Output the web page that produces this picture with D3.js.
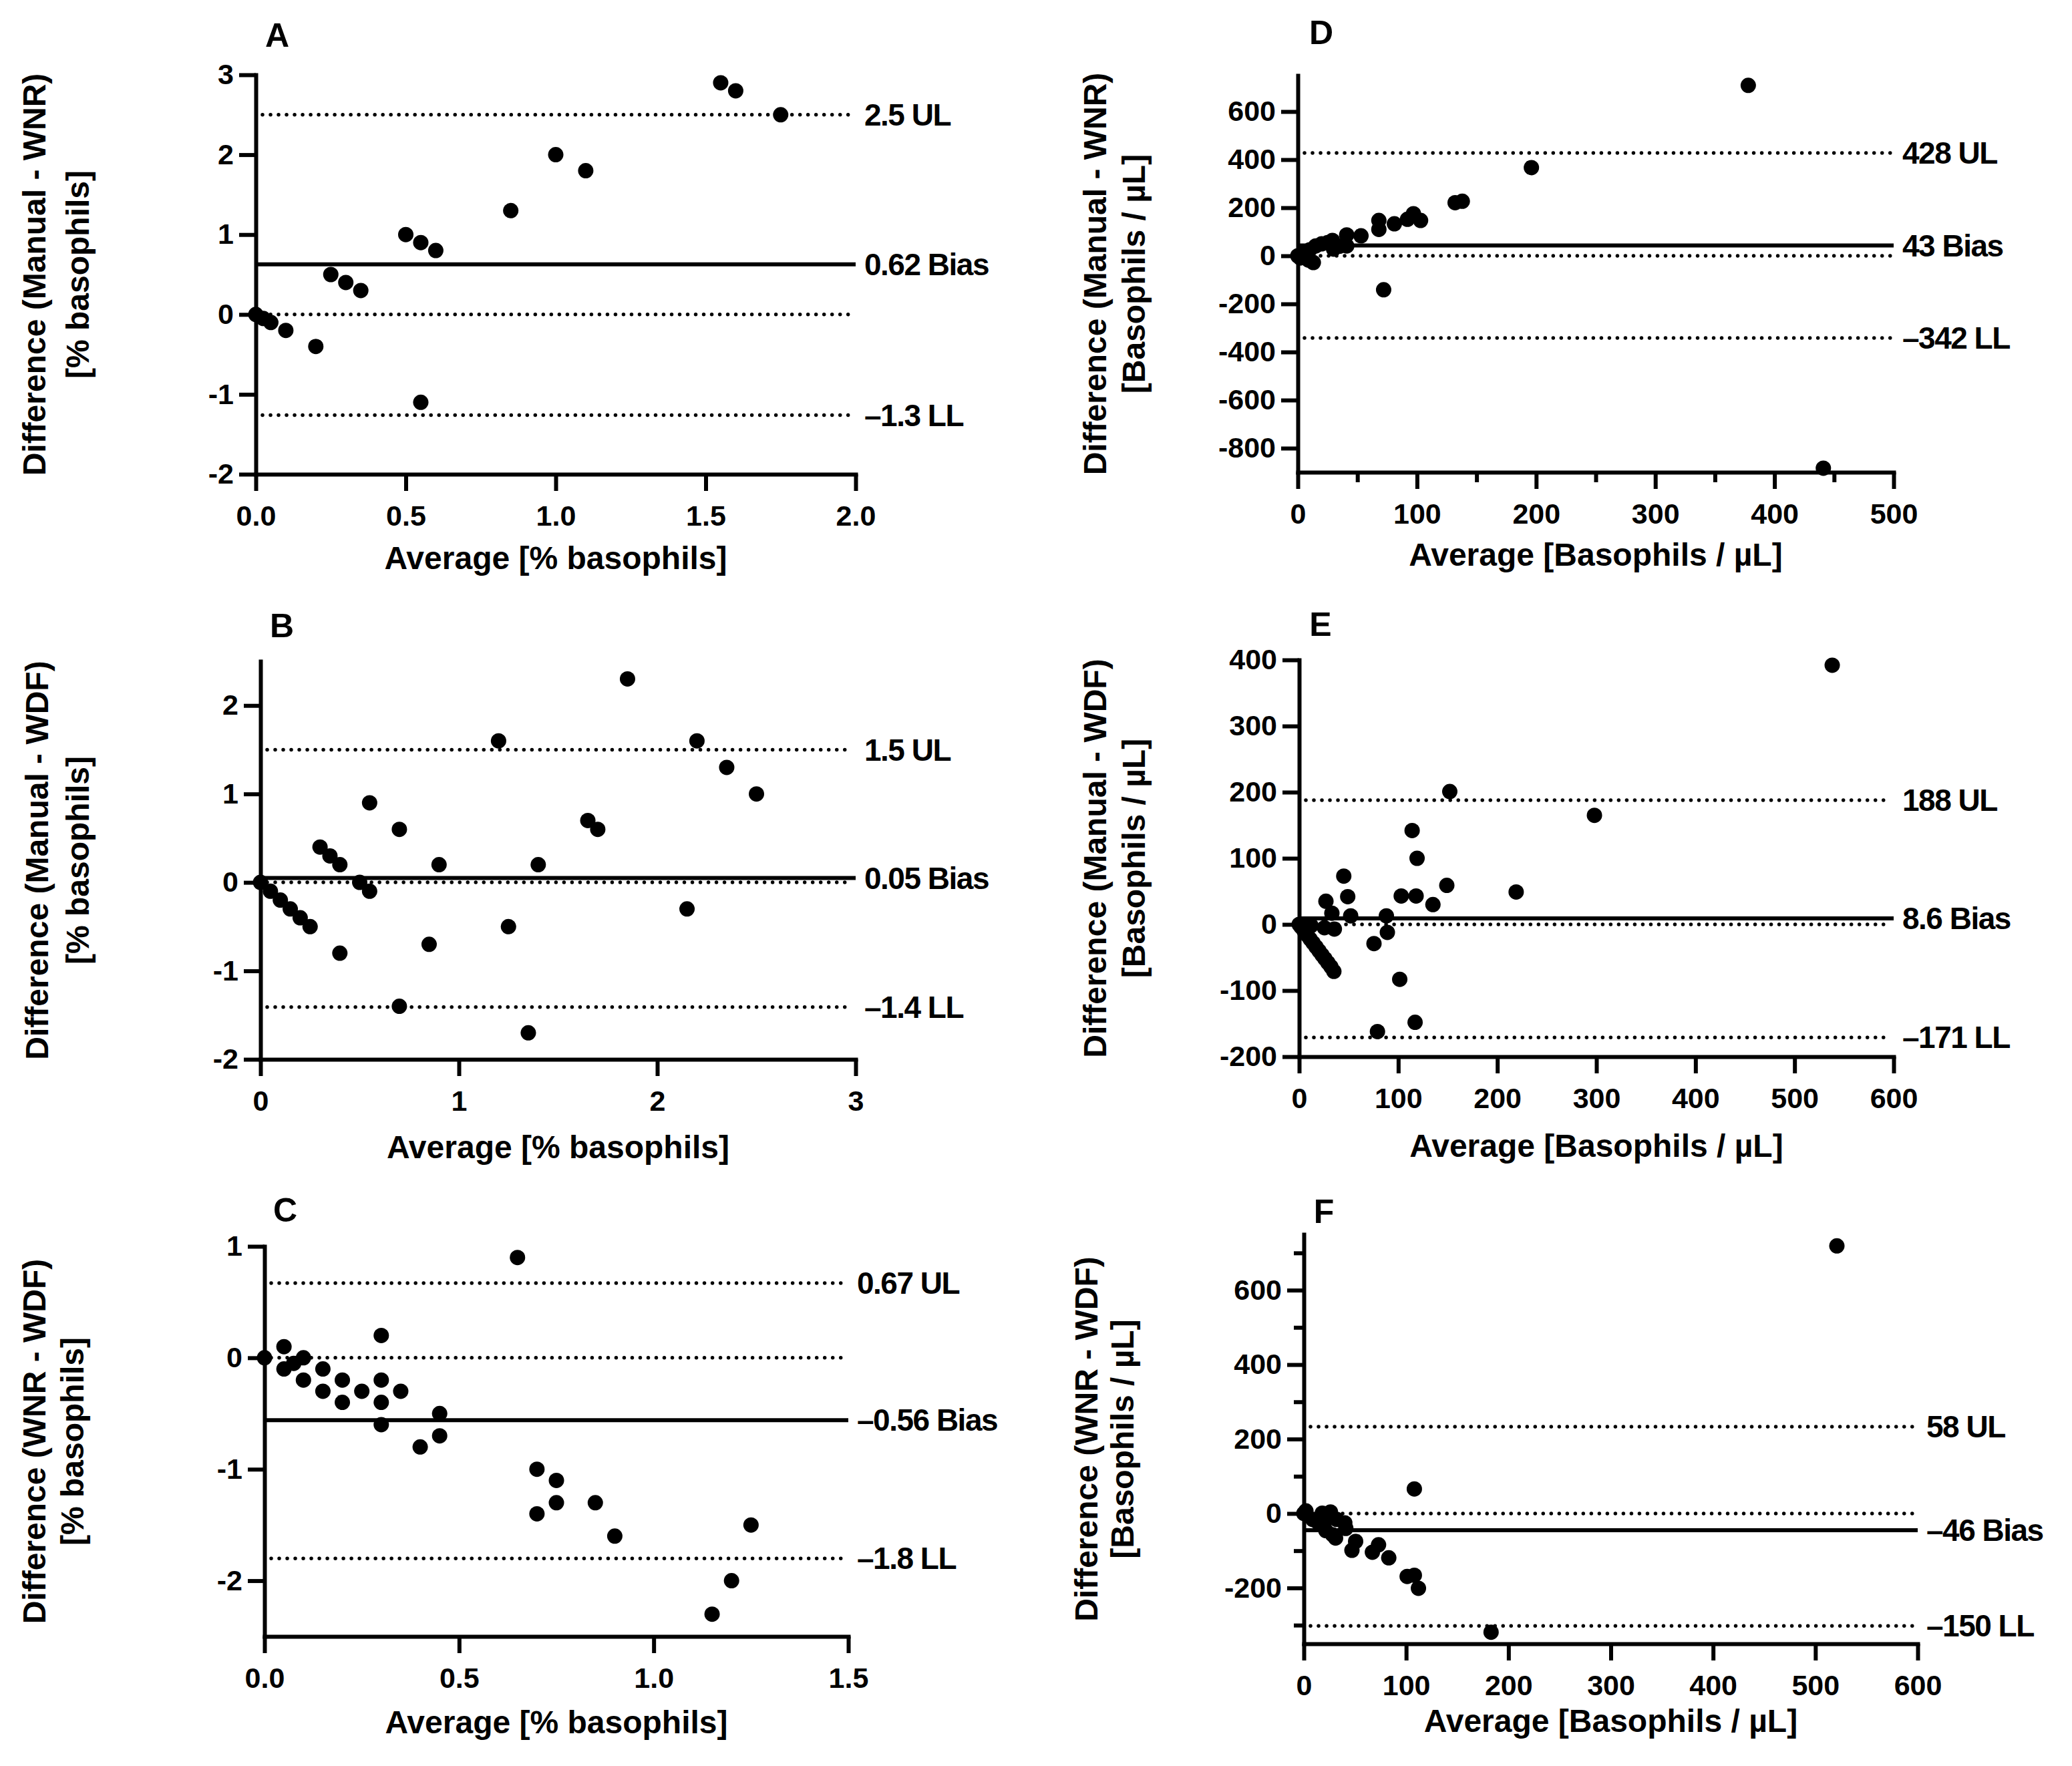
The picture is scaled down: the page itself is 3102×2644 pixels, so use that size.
<!DOCTYPE html>
<html>
<head>
<meta charset="utf-8">
<script src="https://cdn.jsdelivr.net/npm/d3@7"></script>
<style>
  body { margin: 0; background: #fff; }
  svg { display: block; }
  text { font-family: "Liberation Sans", Arial, sans-serif; font-weight: bold; fill: #000; }
</style>
</head>
<body>
<script>
// A: Manual - WNR, % basophils
const aAvg  = [0, 0.025, 0.05, 0.1, 0.2, 0.25, 0.3, 0.35, 0.5, 0.55, 0.6, 0.55, 0.85, 1.0, 1.1, 1.55, 1.6, 1.75];
const aDiff = [0, -0.05, -0.1, -0.2, -0.4, 0.5, 0.4, 0.3, 1.0, 0.9, 0.8, -1.1, 1.3, 2.0, 1.8, 2.9, 2.8, 2.5];
const aLimits = [2.5, 0.627, -1.26];
const aLimitLabels = ["2.5 UL", "0.62 Bias", "\u20131.3 LL"];

// B: Manual - WDF, % basophils
const bAvg  = [0, 0.05, 0.1, 0.15, 0.2, 0.25, 0.3, 0.35, 0.4, 0.4, 0.5, 0.55, 0.55, 0.7, 0.7, 0.85, 0.9, 1.2, 1.25, 1.35, 1.4, 1.65, 1.7, 1.85, 2.15, 2.2, 2.35, 2.5];
const bDiff = [0, -0.1, -0.2, -0.3, -0.4, -0.5, 0.4, 0.3, 0.2, -0.8, 0, -0.1, 0.9, 0.6, -1.4, -0.7, 0.2, 1.6, -0.5, -1.7, 0.2, 0.7, 0.6, 2.3, -0.3, 1.6, 1.3, 1.0];
const bLimits = [1.5, 0.05, -1.41];
const bLimitLabels = ["1.5 UL", "0.05 Bias", "\u20131.4 LL"];

// C: WNR - WDF, % basophils
const cAvg  = [0, 0.05, 0.05, 0.075, 0.1, 0.1, 0.15, 0.15, 0.2, 0.2, 0.25, 0.3, 0.3, 0.3, 0.3, 0.35, 0.4, 0.45, 0.45, 0.65, 0.7, 0.7, 0.75, 0.75, 0.85, 0.9, 1.15, 1.2, 1.25];
const cDiff = [0, 0.1, -0.1, -0.05, 0, -0.2, -0.1, -0.3, -0.2, -0.4, -0.3, 0.2, -0.2, -0.4, -0.6, -0.3, -0.8, -0.5, -0.7, 0.9, -1.0, -1.4, -1.1, -1.3, -1.3, -1.6, -2.3, -2.0, -1.5];
const cLimits = [0.67, -0.56, -1.8];
const cLimitLabels = ["0.67 UL", "\u20130.56 Bias", "\u20131.8 LL"];

// D: Manual - WNR, basophils / uL
const dAvg  = [0, 2, 3, 6.5, 9, 10, 13, 15, 20, 25, 29, 30, 35, 41, 41, 53, 68, 68, 72, 81, 92, 97, 103, 132, 138, 196, 378, 441];
const dDiff = [0, -9, 5, 18, -18, 25, -28, 41, 50, 55, 64, 28, 40, 87, 41, 83, 110, 147, -141, 133, 152, 175, 147, 221, 227, 367, 709, -883];
const dLimits = [428, 43, -342];
const dLimitLabels = ["428 UL", "43 Bias", "\u2013342 LL"];

// E: Manual - WDF, basophils / uL
const eAvg  = [0, 2, 5, 6, 8, 11, 12, 14, 17, 20, 23, 26, 29, 32, 35, 27, 33, 25.5, 35.5, 45, 49, 52, 75.5, 79, 88, 89, 101.5, 103, 114, 117, 119, 118, 135, 149, 152, 219, 298, 538];
const eDiff = [0, -4, -10, 0, -16, -22, -2, -28, -34, -40, -46, -52, -58, -64, -71, 35, 17, -5, -7, 73, 42, 13, -29, -162, 13, -12, -83, 43, 142, -148, 100, 43, 30, 59, 201, 49, 165, 392];
const eLimits = [188, 9, -171];
const eLimitLabels = ["188 UL", "8.6 Bias", "\u2013171 LL"];

// F: WNR - WDF, basophils / uL
const fAvg  = [0, 2, 18, 26, 32, 40, 21.5, 31, 41, 47, 50.6, 67, 73, 83, 101, 108, 112, 108, 183, 521, 8.6, 13, 17, 23.5, 28];
const fDiff = [0, 7, 1, 4, -16, -25, -46, -66, -40, -99, -75, -104, -84, -119, -169, -166, -201, 66, -319, 719, -16, -22, -31, -13, -57];
const fLimits = [233, -45, -302];
const fLimitLabels = ["58 UL", "\u201346 Bias", "\u2013150 LL"];

const pctTitle = ["[% basophils]"];
const absTitle = ["[Basophils / \u00b5L]"];

const panels = [
  {letter: "A", avg: aAvg, diff: aDiff, limits: aLimits, labels: aLimitLabels,
   yTitle: "Difference (Manual - WNR)", yTitle2: pctTitle[0], xTitle: "Average [% basophils]",
   xDomain: [0, 2], xTicks: [0, 0.5, 1, 1.5, 2], xFmt: d => d.toFixed(1),
   yDomain: [-2, 3], yTicks: [-2, -1, 0, 1, 2, 3],
   x0: 383, x1: 1281, yTop: 112, yBot: 710,
   letterPos: [415, 52], yTitleX: [51, 116], xTitleOff: 125},
  {letter: "B", avg: bAvg, diff: bDiff, limits: bLimits, labels: bLimitLabels,
   yTitle: "Difference (Manual - WDF)", yTitle2: pctTitle[0], xTitle: "Average [% basophils]",
   xDomain: [0, 3], xTicks: [0, 1, 2, 3], xFmt: d => String(d),
   yDomain: [-2, 2.5], yTicks: [-2, -1, 0, 1, 2],
   x0: 390, x1: 1281, yTop: 990, yBot: 1586,
   letterPos: [422, 936], yTitleX: [55, 116], xTitleOff: 131},
  {letter: "C", avg: cAvg, diff: cDiff, limits: cLimits, labels: cLimitLabels,
   yTitle: "Difference (WNR - WDF)", yTitle2: pctTitle[0], xTitle: "Average [% basophils]",
   xDomain: [0, 1.5], xTicks: [0, 0.5, 1, 1.5], xFmt: d => d.toFixed(1),
   yDomain: [-2.5, 1], yTicks: [-2, -1, 0, 1],
   x0: 396, x1: 1270, yTop: 1866, yBot: 2450,
   letterPos: [427, 1811], yTitleX: [51, 108], xTitleOff: 128},
  {letter: "D", avg: dAvg, diff: dDiff, limits: dLimits, labels: dLimitLabels,
   yTitle: "Difference (Manual - WNR)", yTitle2: absTitle[0], xTitle: "Average [Basophils / \u00b5L]",
   xDomain: [0, 500], xTicks: d3.range(0, 501, 100), xMinor: d3.range(50, 500, 100), xFmt: d => String(d),
   yDomain: [-900, 750], yTicks: d3.range(-800, 601, 200),
   x0: 1943, x1: 2835, yTop: 113, yBot: 707,
   letterPos: [1978, 48], yTitleX: [1639, 1697], xTitleOff: 123},
  {letter: "E", avg: eAvg, diff: eDiff, limits: eLimits, labels: eLimitLabels,
   yTitle: "Difference (Manual - WDF)", yTitle2: absTitle[0], xTitle: "Average [Basophils / \u00b5L]",
   xDomain: [0, 600], xTicks: d3.range(0, 601, 100), xFmt: d => String(d),
   yDomain: [-200, 400], yTicks: d3.range(-200, 401, 100),
   x0: 1945, x1: 2835, yTop: 988, yBot: 1582,
   letterPos: [1977, 934], yTitleX: [1639, 1697], xTitleOff: 133},
  {letter: "F", avg: fAvg, diff: fDiff, limits: fLimits, labels: fLimitLabels,
   yTitle: "Difference (WNR - WDF)", yTitle2: absTitle[0], xTitle: "Average [Basophils / \u00b5L]",
   xDomain: [0, 600], xTicks: d3.range(0, 601, 100), xFmt: d => String(d),
   yDomain: [-350, 750], yTicks: d3.range(-200, 601, 200), yMinor: d3.range(-300, 701, 200),
   x0: 1952, x1: 2871, yTop: 1848, yBot: 2461,
   letterPos: [1982, 1813], yTitleX: [1626, 1680], xTitleOff: 115}
];

const W = 3102, H = 2644;
const svg = d3.select("body").append("svg")
    .attr("width", W)
    .attr("height", H)
    .attr("viewBox", [0, 0, W, H]);

const yFmt = d => String(d); // plain hyphen for negatives, like the figure

function styleAxis(g) {
  g.attr("font-size", 43).attr("font-family", null);
  g.select(".domain").attr("stroke", "#000").attr("stroke-width", 6).attr("stroke-linecap", "square");
  g.selectAll(".tick line").attr("stroke", "#000").attr("stroke-width", 6);
}

function drawPanel(p) {
  const x = d3.scaleLinear(p.xDomain, [p.x0, p.x1]);
  const y = d3.scaleLinear(p.yDomain, [p.yBot, p.yTop]);
  const g = svg.append("g");

  // axes
  g.append("g")
      .attr("transform", `translate(0,${p.yBot})`)
      .call(d3.axisBottom(x).tickValues(p.xTicks).tickFormat(p.xFmt)
        .tickSize(25).tickPadding(21).tickSizeOuter(0))
      .call(styleAxis);
  if (p.xMinor) g.append("g")
      .attr("transform", `translate(0,${p.yBot})`)
      .call(d3.axisBottom(x).tickValues(p.xMinor).tickFormat("").tickSize(15).tickSizeOuter(0))
      .call(styleAxis)
      .call(a => a.select(".domain").remove());

  g.append("g")
      .attr("transform", `translate(${p.x0},0)`)
      .call(d3.axisLeft(y).tickValues(p.yTicks).tickFormat(yFmt)
        .tickSize(25).tickPadding(8).tickSizeOuter(0))
      .call(styleAxis);
  if (p.yMinor) g.append("g")
      .attr("transform", `translate(${p.x0},0)`)
      .call(d3.axisLeft(y).tickValues(p.yMinor).tickFormat("").tickSize(15).tickSizeOuter(0))
      .call(styleAxis)
      .call(a => a.select(".domain").remove());

  // zero line, limits (dotted) and bias (solid)
  const xs = x(p.xDomain[0]) + 10, xe = p.x1 - 5;
  const dotted = [0, p.limits[0], p.limits[2]];
  g.append("g").selectAll("line")
    .data(dotted)
    .join("line")
      .attr("x1", xs).attr("x2", xe)
      .attr("y1", d => y(d)).attr("y2", d => y(d))
      .attr("stroke", "#000")
      .attr("stroke-width", 5.5)
      .attr("stroke-linecap", "round")
      .attr("stroke-dasharray", "0.01 12");
  g.append("line")
      .attr("x1", p.x0).attr("x2", p.x1)
      .attr("y1", y(p.limits[1])).attr("y2", y(p.limits[1]))
      .attr("stroke", "#000")
      .attr("stroke-width", 6);

  g.append("g").selectAll("text")
    .data(p.limits)
    .join("text")
      .attr("x", p.x1 + 13)
      .attr("y", d => y(d))
      .attr("dy", "0.35em")
      .attr("font-size", 46)
      .attr("letter-spacing", -1.5)
      .text((d, i) => p.labels[i]);

  // points
  g.append("g").selectAll("circle")
    .data(d3.range(p.avg.length))
    .join("circle")
      .attr("cx", i => x(p.avg[i]))
      .attr("cy", i => y(p.diff[i]))
      .attr("r", 11.5)
      .attr("fill", "#000");

  // titles
  g.append("text")
      .attr("x", p.letterPos[0]).attr("y", p.letterPos[1])
      .attr("dy", "0.35em")
      .attr("text-anchor", "middle")
      .attr("font-size", 50)
      .text(p.letter);

  g.append("text")
      .attr("x", (p.x0 + p.x1) / 2)
      .attr("y", p.yBot + p.xTitleOff)
      .attr("dy", "0.35em")
      .attr("text-anchor", "middle")
      .attr("font-size", 48)
      .text(p.xTitle);

  const yc = (p.yTop + p.yBot) / 2;
  [p.yTitle, p.yTitle2].forEach((t, i) => {
    g.append("text")
        .attr("transform", `translate(${p.yTitleX[i]},${yc}) rotate(-90)`)
        .attr("dy", "0.35em")
        .attr("text-anchor", "middle")
        .attr("font-size", 48)
        .text(t);
  });
}

panels.forEach(drawPanel);
</script>
</body>
</html>
